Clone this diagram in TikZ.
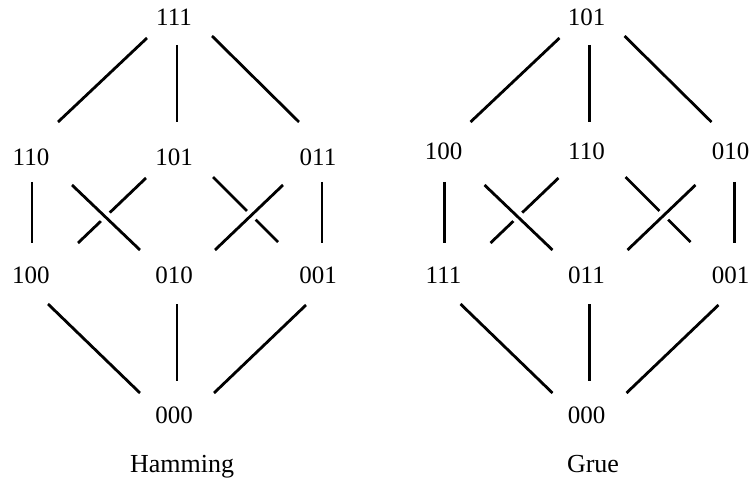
\documentclass[tikz,border=0pt]{standalone}
\usepackage{fontspec}
\setmainfont{Liberation Serif}
\tikzset{
  vertex/.style={inner sep=0pt, font=\fontsize{25}{30}\selectfont},
  caption/.style={anchor=base, inner sep=0pt, font=\fontsize{26}{30}\selectfont},
  edge/.style={line width=2.8pt},
  overedge/.style={edge, preaction={draw=white, line width=12pt}},
}
% Edges of one lattice; #1 = name prefix, #2 = upward offset of the middle row labels
\newcommand\latticeedges[2]{%
  \draw[edge] ([shift={(-27,21)}]#1top.center) -- ([shift={(27,-35+#2)}]#1ml.center);
  \draw[edge] ([shift={(3,28)}]#1top.center) -- ([shift={(3,-35+#2)}]#1mm.center);
  \draw[edge] ([shift={(38,19)}]#1top.center) -- ([shift={(-19,-35+#2)}]#1mr.center);
  \draw[edge] ([shift={(1,25+#2)}]#1ml.center) -- ([shift={(1,-32)}]#1bl.center);
  \draw[edge] ([shift={(-28,21+#2)}]#1mm.center) -- ([shift={(47,-32)}]#1bl.center);
  \draw[edge] ([shift={(39,20+#2)}]#1mm.center) -- ([shift={(-40,-33)}]#1br.center);
  \draw[overedge] ([shift={(41,28+#2)}]#1ml.center) -- ([shift={(-34,-25)}]#1bm.center);
  \draw[overedge] ([shift={(-35,28+#2)}]#1mr.center) -- ([shift={(41,-25)}]#1bm.center);
  \draw[edge] ([shift={(4,25+#2)}]#1mr.center) -- ([shift={(4,-32)}]#1br.center);
  \draw[edge] ([shift={(17,29)}]#1bl.center) -- ([shift={(-34,-22)}]#1bot.center);
  \draw[edge] ([shift={(3,29)}]#1bm.center) -- ([shift={(3,-34)}]#1bot.center);
  \draw[edge] ([shift={(-12,30)}]#1br.center) -- ([shift={(40,-22)}]#1bot.center);
}
\begin{document}
\begin{tikzpicture}[x=1pt, y=-1pt]
  \useasboundingbox (0,0) rectangle (752,478);
  % Hamming ordering
  \node[vertex] (htop) at (174,17) {111};
  \node[vertex] (hml) at (31,157) {110};
  \node[vertex] (hmm) at (174,157) {101};
  \node[vertex] (hmr) at (318,157) {011};
  \node[vertex] (hbl) at (31,275) {100};
  \node[vertex] (hbm) at (174,275) {010};
  \node[vertex] (hbr) at (318,275) {001};
  \node[vertex] (hbot) at (174,415) {000};
  \node[caption] (hcap) at (182,472) {Hamming};
  % Grue ordering
  \begin{scope}[xshift=412.5pt]
    \node[vertex] (gtop) at (174,17) {101};
    \node[vertex] (gml) at (31,151) {100};
    \node[vertex] (gmm) at (174,151) {110};
    \node[vertex] (gmr) at (318,151) {010};
    \node[vertex] (gbl) at (31,275) {111};
    \node[vertex] (gbm) at (174,275) {011};
    \node[vertex] (gbr) at (318,275) {001};
    \node[vertex] (gbot) at (174,415) {000};
    \node[caption] (gcap) at (180.5,472) {Grue};
  \end{scope}
  \latticeedges{h}{0}
  \latticeedges{g}{6}
\end{tikzpicture}
\end{document}
